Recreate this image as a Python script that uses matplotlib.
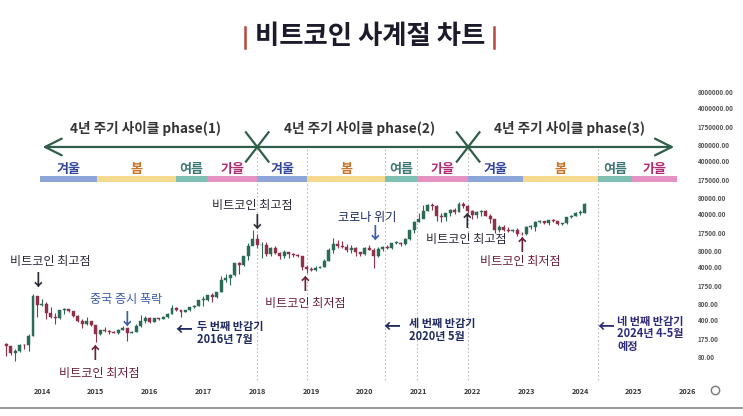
import matplotlib
matplotlib.use("Agg")
import numpy as np
import pandas as pd
import matplotlib.pyplot as plt
from matplotlib.lines import Line2D
from matplotlib.patches import Rectangle
from matplotlib.ticker import FixedLocator, NullLocator

plt.rcParams['font.family'] = ['Noto Sans CJK KR', 'DejaVu Sans']

# monthly BTC candles, May 2013 .. Feb 2024 (USD)
first_open = 139
closes = [129, 97, 106, 135, 133, 204, 1130, 754,
          800, 550, 450, 445, 630, 640, 585, 480, 387, 338, 378, 320,
          218, 254, 244, 236, 230, 263, 284, 230, 236, 314, 378, 430,
          368, 437, 416, 448, 531, 673, 624, 575, 609, 700, 742, 964,
          970, 1190, 1080, 1350, 2300, 2480, 2875, 4735, 4340, 6450, 10000, 13850,
          10250, 10300, 6930, 9240, 7500, 6400, 7730, 7030, 6630, 6370, 4040, 3740,
          3460, 3810, 4100, 5320, 8570, 10820, 10080, 9600, 8300, 9150, 7570, 7200,
          9350, 8600, 6440, 8650, 9450, 9140, 11350, 11650, 10780, 13800, 19700, 29000,
          33100, 45200, 58800, 57700, 37300, 35000, 41500, 47100, 43800, 61300, 57000, 46300,
          38500, 43200, 45500, 37700, 31800, 19900, 23300, 20050, 19430, 20500, 17170, 16550,
          23100, 23150, 28480, 29250, 27200, 30480, 29230, 25940, 26970, 34650, 37720, 42280,
          42580, 61200]
highs = [147, 130, 112, 140, 144, 215, 1240, 1160,
         1000, 860, 715, 550, 630, 680, 660, 600, 495, 415, 460, 380,
         320, 265, 300, 258, 247, 267, 315, 285, 245, 330, 500, 470,
         465, 445, 440, 468, 550, 780, 700, 625, 612, 720, 755, 975,
         1150, 1210, 1300, 1350, 2760, 2980, 2920, 4760, 4980, 6470, 11400, 19700,
         17200, 11800, 11700, 9760, 9990, 7760, 8500, 7770, 7400, 6970, 6560, 4320,
         4100, 4200, 4140, 5630, 9080, 13880, 13130, 12330, 10950, 10370, 9510, 7750,
         9570, 10500, 9200, 9460, 10070, 10380, 11450, 12470, 12070, 14100, 19900, 29300,
         41950, 58350, 61780, 64900, 59600, 41300, 42300, 50500, 52900, 67000, 69000, 59100,
         47990, 45800, 48200, 47400, 40000, 31900, 24700, 25200, 22800, 21000, 21450, 18400,
         23950, 25250, 29200, 31000, 29820, 31430, 31800, 30200, 27480, 35200, 38420, 44700,
         48970, 63900]
lows = [85, 88, 66, 100, 115, 104, 198, 455,
        750, 410, 440, 340, 420, 530, 570, 450, 370, 280, 320, 310,
        152, 210, 235, 215, 225, 220, 255, 162, 225, 235, 300, 350,
        355, 365, 400, 412, 440, 530, 600, 465, 570, 605, 690, 740,
        750, 920, 890, 1060, 1330, 2070, 1840, 2700, 2970, 4110, 5550, 10700,
        9000, 5900, 6450, 6420, 7030, 5790, 6070, 5880, 6100, 6200, 3560, 3150,
        3350, 3380, 3780, 4100, 5320, 7480, 9070, 9330, 7710, 7300, 6530, 6430,
        6870, 8450, 3850, 6150, 8120, 8900, 8970, 11120, 9880, 10400, 13200, 17600,
        28130, 33400, 45000, 47000, 30000, 28800, 29300, 37300, 39600, 43300, 53300, 42000,
        32900, 34300, 37100, 37600, 26700, 17600, 18800, 19600, 18150, 18200, 15500, 16300,
        16500, 21350, 19550, 26940, 25800, 24800, 28900, 25170, 24900, 26550, 34100, 37600,
        38550, 41900]

years = list(range(2014, 2027))
price_ticks = [80, 175, 400, 800, 1750, 4000, 8000, 17500, 40000, 80000,
               175000, 400000, 800000, 1750000, 4000000, 8000000]

# cycle phases and seasons (decimal years)
phase_labels = ['4년 주기 사이클 phase(1)', '4년 주기 사이클 phase(2)', '4년 주기 사이클 phase(3)']
phase_bounds = [2013.96, 2018.0, 2021.92, 2025.8]
season_names = ['겨울', '봄', '여름', '가을'] * 3
season_bounds = [2013.96, 2015.02, 2016.49, 2017.07, 2018.0, 2018.93, 2020.38,
                 2020.97, 2021.92, 2022.94, 2024.33, 2024.97, 2025.8]

W, H = 743, 416
fig = plt.figure(figsize=(W / 100, H / 100), dpi=100)
fig.patch.set_facecolor('white')


def fx(px):
    return px / W


def fy(py):
    return 1 - py / H


ax = fig.add_axes([0, fy(380), fx(692), (380 - 75) / H])
for s in ax.spines.values():
    s.set_visible(False)
ax.set_yscale('log')
ax.set_xlim(2013.22, 2026.08)
ax.set_ylim(10 ** 1.47, 10 ** 7.23)

dates = pd.date_range('2013-05-01', periods=len(closes), freq='MS')
t = dates.year + (dates.month - 1) / 12
opens = [first_open] + closes[:-1]
up_col, dn_col = '#2b6a55', '#8e3149'
for ti, o, h, l, c in zip(t, opens, highs, lows, closes):
    col = up_col if c >= o else dn_col
    ax.vlines(ti, l, h, color=col, lw=0.8, zorder=3)
    lo, hi = min(o, c), max(o, c)
    if hi / lo < 1.03:
        hi = lo * 1.03
    ax.bar(ti, hi - lo, bottom=lo, width=0.055, color=col, edgecolor=col, lw=0.3, zorder=4)

# ticks
ax.yaxis.tick_right()
ax.yaxis.set_major_locator(FixedLocator(price_ticks))
ax.yaxis.set_minor_locator(NullLocator())
ax.set_yticklabels([f'{v:.2f}' for v in price_ticks])
ax.tick_params(axis='y', length=0, pad=4, labelsize=4.6, labelcolor='#555555')
ax.set_xticks(years)
ax.set_xticklabels([str(y) for y in years])
ax.tick_params(axis='x', length=0, pad=6, labelsize=5.2, labelcolor='#333333')
for lab in ax.get_xticklabels() + ax.get_yticklabels():
    lab.set_fontweight('bold')

tr = ax.get_xaxis_transform()
arrow_y = 0.764

# faint dotted verticals at season turns
for xv in [2018.0, 2018.93, 2020.38, 2020.97, 2021.92, 2024.33]:
    ax.plot([xv, xv], [0.0, arrow_y], transform=tr, color='#bbbbbb', lw=0.8,
            ls=(0, (1.5, 2)), zorder=1, clip_on=False)

# phase arrow
green = '#2f5f48'
ax.annotate('', xy=(phase_bounds[0], arrow_y), xytext=(phase_bounds[-1], arrow_y),
            xycoords=tr, textcoords=tr,
            arrowprops=dict(arrowstyle='<->,head_length=1.2,head_width=0.6', color=green, lw=1.6))
for xc in phase_bounds[1:-1]:
    ax.plot([xc - 0.21, xc + 0.21], [arrow_y + 0.048, arrow_y - 0.048], transform=tr, color=green, lw=1.6, clip_on=False)
    ax.plot([xc - 0.21, xc + 0.21], [arrow_y - 0.048, arrow_y + 0.048], transform=tr, color=green, lw=1.6, clip_on=False)
for lab, x0, x1 in zip(phase_labels, phase_bounds[:-1], phase_bounds[1:]):
    ax.text((x0 + x1) / 2 - 0.05, 0.823, lab, transform=tr, ha='center', va='center',
            fontsize=9.8, fontweight='bold', color='#333333')

# season bars
bar_cols = {'겨울': '#8ea5da', '봄': '#f4d98e', '여름': '#7fc0b2', '가을': '#e592c2'}
txt_cols = {'겨울': '#33479a', '봄': '#c8742a', '여름': '#3e7874', '가을': '#b02a72'}
for name, x0, x1 in zip(season_names, season_bounds[:-1], season_bounds[1:]):
    ax.add_patch(Rectangle((x0, 0.648), x1 - x0, 0.022, transform=tr, color=bar_cols[name],
                           lw=0, clip_on=False))
    ax.text((x0 + x1) / 2, 0.693, name, transform=tr, ha='center', va='center',
            fontsize=9.4, fontweight='bold', color=txt_cols[name])

# annotations (pixel positions on the slide)
dark, maroon, blue, navy = '#2a2a3a', '#6a2040', '#3a5da8', '#1f2a5e'
notes = [
    ('비트코인 최고점', 50, 262, dark, '↓', 38, 281, dark),
    ('중국 증시 폭락', 126, 300, blue, '↓', 127, 320, blue),
    ('비트코인 최저점', 99, 373, maroon, '↑', 95, 354, maroon),
    ('비트코인 최고점', 252, 205, dark, '↓', 257, 223, dark),
    ('비트코인 최저점', 305, 303, maroon, '↑', 305, 285, maroon),
    ('코로나 위기', 367, 217, navy, '↓', 375, 234, blue),
    ('비트코인 최고점', 466, 240, dark, '↑', 467, 222, dark),
    ('비트코인 최저점', 520, 261, maroon, '↑', 522, 246, maroon),
]
for txt, px, py, c, arr, ax_, ay, ac in notes:
    fig.text(fx(px), fy(py), txt, ha='center', va='center', fontsize=8.7, color=c)
    fig.text(fx(ax_), fy(ay), arr, ha='center', va='center', fontsize=12, fontweight='bold', color=ac)

halvings = [
    ('두 번째 반감기\n2016년 7월', 184, 197, 333, 330, navy),
    ('세 번째 반감기\n2020년 5월', 392, 409, 330, 327, navy),
    ('네 번째 반감기\n2024년 4-5월\n예정', 606, 617, 334, 327, '#2d2a7a'),
]
for txt, arx, tx, ty, ary, c in halvings:
    fig.text(fx(arx), fy(ary), '←', ha='center', va='center',
             fontsize=12, fontweight='bold', color=c)
    fig.text(fx(tx), fy(ty), txt, ha='left', va='center', fontsize=8, fontweight='bold',
             color=c, linespacing=0.92)

# title
fig.text(fx(370), fy(37), '비트코인 사계절 차트', ha='center', va='center',
         fontsize=19, fontweight='bold', color='#1b1b2b')
for bx in [245, 494]:
    fig.add_artist(Line2D([fx(bx), fx(bx)], [fy(27), fy(48)], color='#b4483c', lw=1.8))

# frame bits of the slide
fig.add_artist(Line2D([fx(715)], [fy(390)], marker='o', mfc='none', mec='#777777', ms=6, mew=1))
fig.add_artist(Line2D([0, 1], [fy(408), fy(408)], color='#888888', lw=1.2))

fig.savefig('out.png', dpi=100, facecolor='white')
